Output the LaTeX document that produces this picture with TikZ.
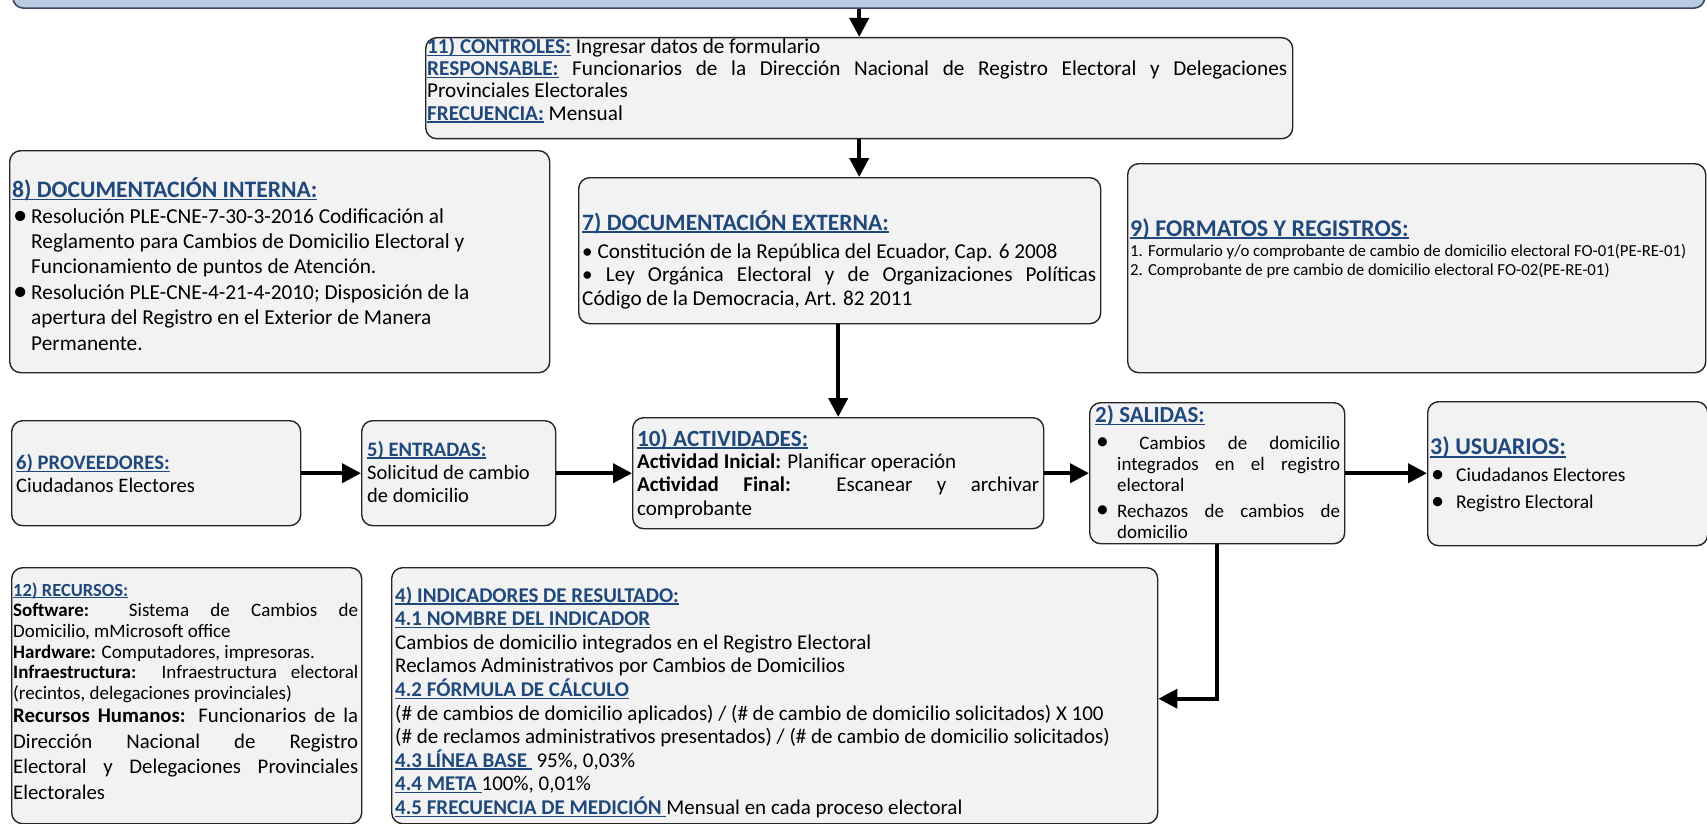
\documentclass[tikz,border=0pt]{standalone}
\usepackage{fontspec}
\setmainfont{Carlito}
\usepackage{graphicx}
\usetikzlibrary{arrows.meta}
\definecolor{panelfill}{RGB}{242,242,242}
\definecolor{hdblue}{RGB}{31,73,125}
\definecolor{barfill}{RGB}{184,204,228}
\definecolor{barline}{RGB}{60,72,92}
\newsavebox\hdbox
% bold blue heading with an underline close to the baseline
\newcommand\hd[1]{\textcolor{hdblue}{\bfseries\sbox\hdbox{#1}\rlap{\rule[-0.12em]{\wd\hdbox}{0.06em}}\usebox\hdbox}}
\newcommand\dotmark{\raisebox{-0.05em}{\scalebox{1.35}{\textbullet}}}
\newcommand\bul[1]{\makebox[#1][l]{\hspace{1pt}\dotmark}}
\newcommand\fs[2]{\fontsize{#1}{#2}\selectfont}
\setlength\parindent{0pt}
\begin{document}
\begin{tikzpicture}[x=1pt,y=-1pt,
  panel/.style={draw=black!85, line width=1.4pt, rounded corners=11pt, fill=panelfill, anchor=north west, inner sep=0pt},
  bar/.style={draw=barline, line width=1.6pt, rounded corners=11pt, fill=barfill, anchor=south west, inner sep=0pt},
  flow/.style={line width=4pt, -{Triangle[length=19pt,width=19pt]}},
  txt/.style={anchor=base west, inner sep=0pt},
]
\useasboundingbox (0,0) rectangle (1707,824);
\clip (0,0) rectangle (1707,824);

% panels
\node[bar, minimum width=1692pt, minimum height=60pt] (top) at (12,9) {};
\node[panel, minimum width=867pt, minimum height=101pt] (ctl) at (425,37) {};
\node[panel, minimum width=540pt, minimum height=222pt] (din) at (9,150) {};
\node[panel, minimum width=522pt, minimum height=146pt] (ext) at (578,177) {};
\node[panel, minimum width=578pt, minimum height=209pt] (fmt) at (1127,163) {};
\node[panel, minimum width=289pt, minimum height=105pt] (prov) at (11,420) {};
\node[panel, minimum width=194pt, minimum height=105pt] (ent) at (361,420) {};
\node[panel, minimum width=411pt, minimum height=111pt] (act) at (632,417) {};
\node[panel, minimum width=255pt, minimum height=141pt] (sal) at (1089,402) {};
\node[panel, minimum width=280pt, minimum height=144pt] (usr) at (1427,401) {};
\node[panel, minimum width=350pt, minimum height=256pt] (rec) at (11,567) {};
\node[panel, minimum width=766pt, minimum height=256pt] (ind) at (391,567) {};

% texts (each anchored at the baseline of its first line)
\node[txt] (ctlt) at (427,53.6) {\begin{minipage}[t]{860pt}\fs{21.2}{22.2}%
\hd{11) CONTROLES:} Ingresar datos de formulario\par
\hd{RESPONSABLE:} Funcionarios de la Dirección Nacional de Registro Electoral y Delegaciones\linebreak Provinciales Electorales\par
\hd{FRECUENCIA:} Mensual\end{minipage}};

\node[txt] (dint) at (12,197.6) {\begin{minipage}[t]{532pt}\raggedright
{\fs{23.6}{26}\hd{8) DOCUMENTACIÓN INTERNA:}\par}
{\fs{21.3}{25.4}%
\hangindent=19pt\hangafter=1 \bul{19pt}Resolución PLE-CNE-7-30-3-2016 Codificación al\newline Reglamento para Cambios de Domicilio Electoral y\newline Funcionamiento de puntos de Atención.\par
\hangindent=19pt\hangafter=1 \bul{19pt}Resolución PLE-CNE-4-21-4-2010; Disposición de la\newline apertura del Registro en el Exterior de Manera\newline Permanente.\par}\end{minipage}};

\node[txt, font=\fs{23.5}{26}] (extt) at (582,230) {\hd{7) DOCUMENTACIÓN EXTERNA:}};
\node[txt] (extb) at (582,258) {\begin{minipage}[t]{514pt}\fs{21.2}{23.5}%
\textbullet\ Constitución de la República del Ecuador, Cap. 6 2008\par
\textbullet\ Ley Orgánica Electoral y de Organizaciones Políticas\linebreak Código de la Democracia, Art. 82 2011\end{minipage}};

\node[txt, font=\fs{24}{26}] (fmtt) at (1130,236) {\hd{9) FORMATOS Y REGISTROS:}};
\node[txt] (fmtb) at (1130,256) {\begin{minipage}[t]{572pt}\raggedright\fs{16.8}{19.6}%
1. Formulario y/o comprobante de cambio de domicilio electoral FO-01(PE-RE-01)\par
2. Comprobante de pre cambio de domicilio electoral FO-02(PE-RE-01)\end{minipage}};

\node[txt] (provt) at (16,469.3) {\begin{minipage}[t]{280pt}\raggedright\fs{20.6}{23}%
\hd{6) PROVEEDORES:}\par Ciudadanos Electores\end{minipage}};

\node[txt] (entt) at (367,456.2) {\begin{minipage}[t]{185pt}\raggedright\fs{20.5}{23}%
\hd{5) ENTRADAS:}\par Solicitud de cambio\newline de domicilio\end{minipage}};

\node[txt] (actt) at (637,446) {\begin{minipage}[t]{402pt}%
{\fs{23.2}{26}\hd{10) ACTIVIDADES:}\par}
\vspace{-1pt}
{\fs{21}{23.4}\textbf{Actividad Inicial:} Planificar operación\par
\textbf{Actividad Final:} Escanear y archivar\linebreak comprobante\par}\end{minipage}};

\node[txt] (salt) at (1095,422.4) {\begin{minipage}[t]{245pt}%
{\fs{23}{27}\hd{2) SALIDAS:}\par}
\vspace{5.6pt}
{\fs{19}{21}%
\hangindent=22pt\hangafter=1 \bul{22pt} Cambios de domicilio\linebreak integrados en el registro\linebreak electoral\par
\vspace{5pt}
\hangindent=22pt\hangafter=1 \bul{22pt}Rechazos de cambios de\linebreak domicilio\par}\end{minipage}};

\node[txt] (usrt) at (1430,454.7) {\begin{minipage}[t]{270pt}\raggedright
{\fs{24}{26}\hd{3) USUARIOS:}\par}
{\fs{19.5}{27}\bul{26pt}Ciudadanos Electores\par
\bul{26pt}Registro Electoral\par}\end{minipage}};

\node[txt] (rect) at (13,596) {\begin{minipage}[t]{345pt}%
{\fs{18.5}{20}\hd{12) RECURSOS:}\par}
{\fs{19}{20.7}%
\textbf{Software:} Sistema de Cambios de\linebreak Domicilio, mMicrosoft office\par
\textbf{Hardware:} Computadores, impresoras.\par
\textbf{Infraestructura:} Infraestructura electoral\linebreak (recintos, delegaciones provinciales)\par}
\vspace{-2pt}
{\fs{20.8}{25.4}%
\textbf{Recursos Humanos:} Funcionarios de la\linebreak Dirección Nacional de Registro\linebreak Electoral y Delegaciones Provinciales\linebreak Electorales\par}\end{minipage}};

\node[txt] (indt) at (395,602) {\begin{minipage}[t]{755pt}\raggedright\fs{21}{23.6}%
\hd{4) INDICADORES DE RESULTADO:}\par
\hd{4.1 NOMBRE DEL INDICADOR}\par
Cambios de domicilio integrados en el Registro Electoral\par
Reclamos Administrativos por Cambios de Domicilios\par
\hd{4.2 FÓRMULA DE CÁLCULO}\par
(\# de cambios de domicilio aplicados) / (\# de cambio de domicilio solicitados) X 100\par
(\# de reclamos administrativos presentados) / (\# de cambio de domicilio solicitados)\par
\hd{4.3 LÍNEA BASE\ } 95\%, 0,03\%\par
\hd{4.4 META\ }100\%, 0,01\%\par
\hd{4.5 FRECUENCIA DE MEDICIÓN\ }Mensual en cada proceso electoral\end{minipage}};

% connectors
\draw[flow] (top.south -| ctl.north) -- (ctl.north);
\draw[flow] (ctl.south) -- (ctl.south |- ext.north);
\draw[flow] (ext.south -| act.north) -- (act.north);
\draw[flow] (prov.east) -- (prov.east -| ent.west);
\draw[flow] (ent.east) -- (ent.east -| act.west);
\draw[flow] (act.east) -- (act.east -| sal.west);
\draw[flow] (sal.east) -- (sal.east -| usr.west);
\draw[flow] (sal.south) |- ([yshift=-3pt]ind.east);
\end{tikzpicture}
\end{document}
